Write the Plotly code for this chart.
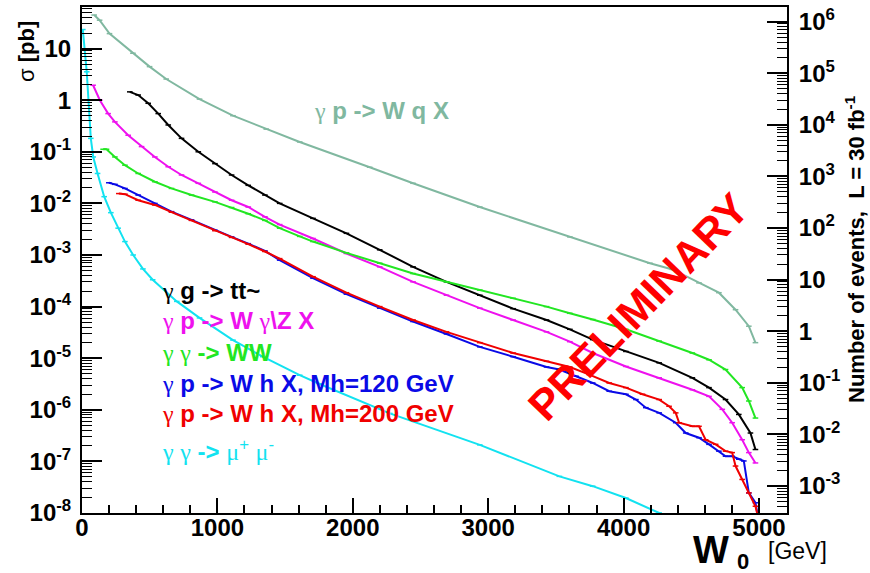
import plotly.graph_objects as go

# ---------------- data (W0 in GeV, sigma in pb) ----------------
w_wqx = [90, 130, 203, 376, 499, 622, 868, 1115, 1361, 1608, 2125, 2445, 2938, 3603, 4195, 4361, 4557, 4704, 4827, 4925, 4974]
s_wqx = [44.7, 35.5, 19.5, 8.13, 4.47, 2.57, 1.05, 0.501, 0.275, 0.155, 0.0501, 0.0245, 8.51e-3, 2.24e-3, 6.92e-4, 5.25e-4, 2.88e-4, 1.86e-4, 8.71e-5, 4.17e-5, 2.0e-5]

w_tt = [353, 415, 489, 563, 637, 735, 859, 982, 1105, 1228, 1351, 1460, 1706, 1953, 2199, 2445, 2692, 2938, 3184, 3431, 3603, 3772, 4017, 4263, 4508, 4631, 4753, 4851, 4937, 4974]
s_tt = [1.45, 1.26, 0.871, 0.550, 0.331, 0.182, 0.100, 0.0589, 0.0355, 0.0224, 0.0145, 0.0100, 5.13e-3, 2.63e-3, 1.26e-3, 5.89e-4, 3.02e-4, 1.66e-4, 9.12e-5, 5.50e-5, 3.63e-5, 2.29e-5, 1.35e-5, 8.13e-6, 4.17e-6, 2.69e-6, 1.58e-6, 8.13e-7, 3.55e-7, 1.70e-7]

w_wgz = [82, 132, 193, 243, 341, 440, 538, 637, 735, 859, 982, 1105, 1228, 1351, 1460, 1706, 1953, 2199, 2445, 2692, 2938, 3184, 3431, 3603, 3772, 4017, 4263, 4508, 4631, 4729, 4802, 4876, 4925, 4974]
s_wgz = [1.95, 1.00, 0.550, 0.380, 0.209, 0.126, 0.0794, 0.0513, 0.0355, 0.0245, 0.0166, 0.0115, 8.51e-3, 5.50e-3, 3.89e-3, 2.09e-3, 1.07e-3, 5.89e-4, 3.02e-4, 1.66e-4, 9.33e-5, 5.50e-5, 3.24e-5, 2.09e-5, 1.26e-5, 6.92e-6, 4.17e-6, 2.45e-6, 1.82e-6, 1.02e-6, 5.62e-7, 2.63e-7, 1.48e-7, 9.33e-8]

w_ww = [156, 181, 243, 317, 415, 538, 661, 809, 982, 1105, 1228, 1351, 1460, 1608, 1706, 1953, 2199, 2445, 2692, 2938, 3184, 3431, 3603, 3772, 4017, 4263, 4508, 4631, 4753, 4876, 4925, 4974]
s_ww = [0.112, 0.112, 0.0794, 0.0550, 0.0380, 0.0263, 0.0195, 0.0145, 0.0107, 8.32e-3, 6.31e-3, 4.68e-3, 3.31e-3, 2.29e-3, 1.82e-3, 1.10e-3, 6.92e-4, 4.37e-4, 3.02e-4, 2.09e-4, 1.45e-4, 1.00e-4, 7.41e-5, 5.62e-5, 3.63e-5, 2.14e-5, 1.26e-5, 9.33e-6, 6.03e-6, 2.69e-6, 1.48e-6, 6.92e-7]

w_wh120 = [198, 243, 317, 415, 538, 661, 809, 982, 1105, 1228, 1351, 1460, 1706, 1953, 2199, 2445, 2692, 2938, 3184, 3431, 3526, 3649, 3772, 3894, 4017, 4091, 4164, 4263, 4385, 4459, 4557, 4631, 4704, 4753, 4802, 4851, 4888, 4925, 4974, 4995]
s_wh120 = [0.0251, 0.0234, 0.0195, 0.0145, 0.0100, 6.92e-3, 4.79e-3, 3.02e-3, 2.24e-3, 1.66e-3, 1.20e-3, 7.94e-4, 3.55e-4, 1.74e-4, 9.33e-5, 5.13e-5, 2.95e-5, 1.66e-5, 1.07e-5, 6.76e-6, 6.03e-6, 4.47e-6, 3.31e-6, 2.29e-6, 2.00e-6, 1.58e-6, 1.10e-6, 8.71e-7, 5.62e-7, 3.55e-7, 2.88e-7, 2.14e-7, 1.58e-7, 1.26e-7, 1.26e-7, 1.10e-7, 1.02e-7, 2.45e-8, 1.58e-8, 7.94e-9]

w_wh200 = [272, 317, 415, 538, 661, 809, 982, 1105, 1228, 1351, 1460, 1706, 1953, 2199, 2445, 2692, 2938, 3184, 3431, 3603, 3747, 3894, 4017, 4140, 4263, 4336, 4385, 4410, 4508, 4557, 4606, 4680, 4753, 4802, 4827, 4876, 4925, 4974, 4995]
s_wh200 = [0.0155, 0.0151, 0.0115, 9.33e-3, 6.76e-3, 4.68e-3, 2.95e-3, 2.19e-3, 1.62e-3, 1.17e-3, 8.51e-4, 3.80e-4, 1.86e-4, 1.00e-4, 5.50e-5, 3.24e-5, 2.00e-5, 1.26e-5, 8.71e-6, 6.76e-6, 4.79e-6, 3.31e-6, 2.69e-6, 2.00e-6, 1.58e-6, 1.17e-6, 8.71e-7, 5.62e-7, 4.79e-7, 4.79e-7, 2.63e-7, 2.14e-7, 1.58e-7, 1.48e-7, 8.13e-8, 4.47e-8, 2.45e-8, 1.35e-8, 7.94e-9]

w_mumu = [6, 35, 65, 83, 115, 164, 213, 267, 317, 378, 450, 522, 700, 868, 1115, 1335, 1608, 1755, 2273, 2938, 3526, 3772, 4017, 4263, 4320]
s_mumu = [23.4, 3.55, 0.182, 0.0794, 0.0380, 0.0135, 6.61e-3, 3.31e-3, 1.82e-3, 1.00e-3, 5.37e-4, 3.31e-4, 1.26e-4, 6.03e-5, 2.24e-5, 1.07e-5, 4.68e-6, 3.16e-6, 8.51e-7, 2.09e-7, 5.13e-8, 3.31e-8, 1.95e-8, 1.00e-8, 8.71e-9]

x_tick_vals = [0, 1000, 2000, 3000, 4000, 5000]
x_tick_text = ["0", "1000", "2000", "3000", "4000", "5000"]
y_exps = [-8, -7, -6, -5, -4, -3, -2, -1, 0, 1]
y2_exps = [-3, -2, -1, 0, 1, 2, 3, 4, 5, 6]
lumi_pb = 30000.0  # 30 fb^-1 in pb^-1

G = '<span style="font-family:Liberation Serif;font-weight:normal">γ</span>'
MU = '<span style="font-family:Liberation Serif;font-weight:normal">μ</span>'

# (label html, x, y, colour)
series = [
    (G + " <b>p -> W q X</b>", w_wqx, s_wqx, "#80b8a0"),
    (G + " <b>g -> tt~</b>", w_tt, s_tt, "#000000"),
    (G + " <b>p -> W</b> " + G + "<b>\\Z X</b>", w_wgz, s_wgz, "#ee11ee"),
    (G + " " + G + " <b>-> WW</b>", w_ww, s_ww, "#22e622"),
    (G + " <b>p -> W h X, Mh=120 GeV</b>", w_wh120, s_wh120, "#0a0ae6"),
    (G + " <b>p -> W h X, Mh=200 GeV</b>", w_wh200, s_wh200, "#f00000"),
    (G + " " + G + " <b>-></b> " + MU + "<sup>+</sup> " + MU + "<sup>-</sup>", w_mumu, s_mumu, "#12e2f0"),
]

FONT = "Liberation Sans, Arial, Helvetica, sans-serif"


def pow_label(e):
    if e == 0:
        return "1"
    if e == 1:
        return "10"
    return "10<sup>%d</sup>" % e


fig = go.Figure()
for name, xs, ys, col in series:
    fig.add_trace(go.Scatter(x=xs, y=ys, mode="lines+markers",
                             line=dict(color=col, width=2),
                             marker=dict(symbol="line-ew", size=4, line=dict(color=col, width=1.5)),
                             showlegend=False, hoverinfo="skip"))

# invisible trace to anchor right-hand axis (events = sigma * L)
fig.add_trace(go.Scatter(x=[None], y=[None], yaxis="y2", showlegend=False))

ymin, ymax = -8, 1.806
lg = 4.4771  # log10(lumi_pb)
minor_y = [m * 10.0 ** e for e in range(-8, 2) for m in range(2, 10)]
minor_y2 = [m * 10.0 ** e for e in range(-4, 7) for m in range(2, 10)]

fig.update_layout(
    width=870, height=573,
    margin=dict(l=82, r=83, t=7, b=60, autoexpand=False),
    paper_bgcolor="white", plot_bgcolor="white",
    font=dict(family=FONT, color="black"),
    xaxis=dict(range=[0, 5207], tickmode="array", tickvals=x_tick_vals, ticktext=x_tick_text,
               ticks="inside", ticklen=15, tickwidth=1.5, tickcolor="black",
               showline=True, linewidth=2, linecolor="black", mirror=True,
               showgrid=False, zeroline=False, automargin=False, ticklabelstandoff=-8,
               tickfont=dict(size=24, family=FONT, weight="bold"),
               minor=dict(tickmode="array", tickvals=list(range(200, 5201, 200)),
                          ticks="inside", ticklen=8, tickwidth=1.5, tickcolor="black")),
    yaxis=dict(type="log", range=[ymin, ymax], tickmode="array",
               tickvals=[10.0 ** e for e in y_exps], ticktext=[pow_label(e) for e in y_exps],
               ticks="inside", ticklen=20, tickwidth=1.5, tickcolor="black",
               showline=True, linewidth=2, linecolor="black", mirror=True,
               showgrid=False, zeroline=False, ticklabelstandoff=4, automargin=False,
               tickfont=dict(size=24, family=FONT, weight="bold"),
               minor=dict(tickmode="array", tickvals=minor_y, ticks="inside", ticklen=10,
                          tickwidth=1.2, tickcolor="black")),
    yaxis2=dict(type="log", overlaying="y", side="right", range=[ymin + lg, ymax + lg],
                tickmode="array", tickvals=[10.0 ** e for e in y2_exps],
                ticktext=[pow_label(e) for e in y2_exps],
                ticks="inside", ticklen=20, tickwidth=1.5, tickcolor="black",
                showline=True, linewidth=2, linecolor="black", automargin=False,
                showgrid=False, zeroline=False, ticklabelstandoff=5,
                tickfont=dict(size=24, family=FONT, weight="bold"),
                minor=dict(tickmode="array", tickvals=minor_y2, ticks="inside", ticklen=10,
                           tickwidth=1.2, tickcolor="black")),
)


def px2paper(px, py):
    return (px - 82) / 705.0, (513 - py) / 506.0


def ann(px, py, text, size, color="black", angle=0, xanchor="center"):
    xp, yp = px2paper(px, py)
    return dict(x=xp, y=yp, xref="paper", yref="paper", text=text, showarrow=False,
                xanchor=xanchor, yanchor="middle", textangle=angle,
                font=dict(size=size, color=color, family=FONT))


annots = []
legend_pos = [(1, 290), (2, 320), (3, 352), (4, 384), (5, 413), (6, 450)]
for idx, py in legend_pos:
    name, _, _, col = series[idx]
    annots.append(ann(160, py, name, 24, col, xanchor="left"))
annots.append(ann(312, 110, series[0][0], 24, series[0][3], xanchor="left"))
annots.append(ann(638, 307, "<b>PRELIMINARY</b>", 43, "#ff0000", angle=-46))
annots.append(ann(26, 52, "σ <b>[pb]</b>", 22, angle=-90))
annots.append(ann(855, 249, "<b>Number of events,  L = 30 fb<sup>-1</sup></b>", 22, angle=-90))
annots.append(ann(711, 550, "<b>W</b>", 38))
annots.append(ann(743, 561, "<b>0</b>", 22))
annots.append(ann(798, 551, "[GeV]", 23))
fig.update_layout(annotations=annots)

fig.write_html("out.html", config={"displayModeBar": False},
               post_script="document.body.style.margin='0';document.body.style.overflow='hidden';")
